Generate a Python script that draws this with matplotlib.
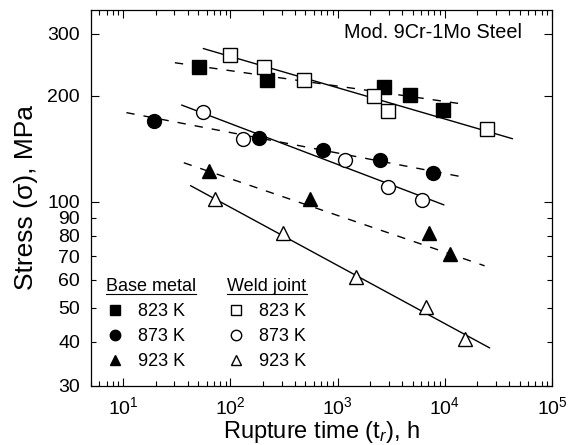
import numpy as np
import matplotlib
matplotlib.use('Agg')
import matplotlib.pyplot as plt
from matplotlib.ticker import FixedLocator, FuncFormatter, LogLocator, NullFormatter
from matplotlib.lines import Line2D
from matplotlib.transforms import IdentityTransform

plt.rcParams['font.family'] = ['Liberation Sans', 'DejaVu Sans']
plt.rcParams['mathtext.fontset'] = 'custom'
plt.rcParams['mathtext.rm'] = 'Liberation Sans'
plt.rcParams['mathtext.it'] = 'Liberation Sans:italic'

# ---------------- data ----------------
# Base metal (filled symbols)
bm823_t = [51, 220, 2720, 4750, 9570]
bm823_s = [241, 222, 212, 201, 182]
bm873_t = [19.4, 186, 727, 2500, 7740]
bm873_s = [170, 152, 140, 131, 121]
bm923_t = [62.5, 551, 7110, 11100]
bm923_s = [122, 102, 81.6, 71.2]
# Weld joint (open symbols)
wj823_t = [98, 206, 484, 2200, 2970, 24500]
wj823_s = [260, 241, 222, 200, 181, 161]
wj873_t = [55, 132, 1160, 2970, 6120]
wj873_s = [180, 151, 131, 110, 101]
wj923_t = [71, 310, 1470, 6670, 15300]
wj923_s = [102, 81.6, 61.2, 50.4, 40.7]
# Fitted trend lines (dashed: base metal, solid: weld joint)
fit_bm823_t = [30.3, 15300]; fit_bm823_s = [248, 189]
fit_bm873_t = [10.7, 13800]; fit_bm873_s = [179, 118]
fit_bm923_t = [36.7, 23500]; fit_bm923_s = [129, 65.8]
fit_wj823_t = [56, 42600];   fit_wj823_s = [272, 151]
fit_wj873_t = [35.2, 9770];  fit_wj873_s = [188, 98]
fit_wj923_t = [42.6, 26100]; fit_wj923_s = [111, 38.5]

temps = ['823 K', '873 K', '923 K']
y_major = [30, 100, 200, 300]
y_minor = [40, 50, 60, 70, 80, 90]
x_major = [1e1, 1e2, 1e3, 1e4, 1e5]

# ---------------- figure ----------------
fig = plt.figure(figsize=(5.75, 4.45), dpi=100)
ax = fig.add_axes([91/575, 1-386/445, 461/575, 376/445])
ax.set_xscale('log')
ax.set_yscale('log')

lw = 1.0
dash = (0, (6, 6.5))
for t, s in [(fit_bm823_t, fit_bm823_s), (fit_bm873_t, fit_bm873_s), (fit_bm923_t, fit_bm923_s)]:
    ax.plot(t, s, color='k', lw=lw, ls=dash, zorder=2)
for t, s in [(fit_wj823_t, fit_wj823_s), (fit_wj873_t, fit_wj873_s), (fit_wj923_t, fit_wj923_s)]:
    ax.plot(t, s, color='k', lw=lw, ls='-', zorder=2)

markers = ['s', 'o', '^']
sizes = [9.5, 10, 10.5]
bm_handles, wj_handles = [], []
for (t, s), m, ms, lab in zip([(bm823_t, bm823_s), (bm873_t, bm873_s), (bm923_t, bm923_s)], markers, sizes, temps):
    h, = ax.plot(t, s, ls='none', marker=m, ms=ms, mfc='k', mec='k', mew=1.0, zorder=3, label=lab)
    bm_handles.append(h)
for (t, s), m, ms, lab in zip([(wj823_t, wj823_s), (wj873_t, wj873_s), (wj923_t, wj923_s)], markers, sizes, temps):
    h, = ax.plot(t, s, ls='none', marker=m, ms=ms, mfc='white', mec='k', mew=1.0, zorder=4, label=lab)
    wj_handles.append(h)

ax.set_xlim(5, 1e5)
ax.set_ylim(30, 350)

ax.xaxis.set_major_locator(FixedLocator(x_major))
ax.xaxis.set_major_formatter(FuncFormatter(lambda v, p: r'$10^{%d}$' % int(round(np.log10(v)))))
ax.xaxis.set_minor_locator(LogLocator(base=10, subs=np.arange(2, 10)))
ax.xaxis.set_minor_formatter(NullFormatter())

fmt = FuncFormatter(lambda v, p: '%g' % v)
ax.yaxis.set_major_locator(FixedLocator(y_major))
ax.yaxis.set_major_formatter(fmt)
ax.yaxis.set_minor_locator(FixedLocator(y_minor))
ax.yaxis.set_minor_formatter(fmt)

ax.tick_params(which='both', direction='in', top=True, right=True, width=0.8, labelsize=14)
ax.tick_params(which='major', length=6)
ax.tick_params(which='minor', length=3.5)
ax.tick_params(axis='x', which='both', pad=7)
ax.tick_params(axis='y', which='both', pad=8)
for sp in ax.spines.values():
    sp.set_linewidth(0.9)

ax.set_xlabel(r'Rupture time (t$_r$), h', fontsize=17, labelpad=1)
ax.set_ylabel('Stress (σ), MPa', fontsize=19, labelpad=7)

ax.text(0.935, 0.939, 'Mod. 9Cr-1Mo Steel', transform=ax.transAxes,
        ha='right', va='center', fontsize=14.3)

leg_kw = dict(loc='upper left', frameon=False, fontsize=13, title_fontsize=13,
              markerscale=0.75, handlelength=1.0, handletextpad=0.75,
              labelspacing=0.45, borderpad=0, borderaxespad=0, alignment='left')
leg1 = ax.legend(handles=bm_handles, title='Base metal',
                 bbox_to_anchor=(0.033, 0.287), **leg_kw)
ax.add_artist(leg1)
leg2 = ax.legend(handles=wj_handles, title='Weld joint',
                 bbox_to_anchor=(0.296, 0.287), **leg_kw)

fig.canvas.draw()
r = fig.canvas.get_renderer()
for lg in (leg1, leg2):
    bb = lg.get_title().get_window_extent(r)
    y = bb.y0 + 1
    fig.add_artist(Line2D([bb.x0, bb.x1], [y, y], transform=IdentityTransform(),
                          color='k', lw=0.8))

fig.savefig('out.png', dpi=100)
